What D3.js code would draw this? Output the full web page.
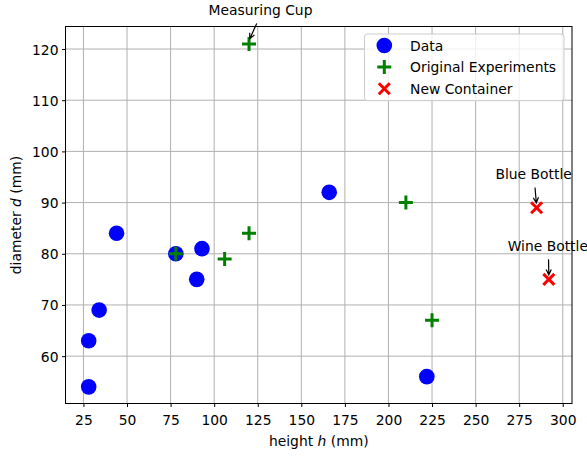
<!DOCTYPE html>
<html>
<head>
<meta charset="utf-8">
<script src="https://cdn.jsdelivr.net/npm/d3@7/dist/d3.min.js"></script>
<style>
  html, body { margin: 0; padding: 0; background: #fff; }
  svg { display: block; font-family: "DejaVu Sans", sans-serif; }
</style>
</head>
<body>
<svg id="chart" width="587" height="456"></svg>
<script>
// ---- Data ----
const dataH = [28, 28, 34, 44, 78, 90, 93, 166, 222];
const dataD = [54, 63, 69, 84, 80, 75, 81, 92, 56];

const origH = [78, 106, 120, 120, 210, 225];
const origD = [80, 79, 84, 121, 90, 67];

const newH = [285, 292];
const newD = [89, 75];

const annotLabels = ["Measuring Cup", "Blue Bottle", "Wine Bottle"];
const annotH = [120, 285, 292];
const annotD = [121, 89, 75];

const legendLabels = ["Data", "Original Experiments", "New Container"];

const xTicks = [25, 50, 75, 100, 125, 150, 175, 200, 225, 250, 275, 300];
const yTicks = [60, 70, 80, 90, 100, 110, 120];

const xDomain = [14.7, 305.3];
const yDomain = [50.75, 124.4];

// ---- Layout ----
const svg = d3.select("#chart");
const L = 65.5, R = 572, T = 26.5, B = 403.5;
const FS = 13.89;

const x = d3.scaleLinear().domain(xDomain).range([L, R]);
const y = d3.scaleLinear().domain(yDomain).range([B, T]);

// grid
const grid = svg.append("g");
grid.selectAll("line.gx").data(xTicks).join("line")
  .attr("x1", d => x(d)).attr("x2", d => x(d))
  .attr("y1", T).attr("y2", B)
  .attr("stroke", "#b0b0b0").attr("stroke-width", 1);
grid.selectAll("line.gy").data(yTicks).join("line")
  .attr("x1", L).attr("x2", R)
  .attr("y1", d => y(d)).attr("y2", d => y(d))
  .attr("stroke", "#b0b0b0").attr("stroke-width", 1);

// axes
const xAxis = d3.axisBottom(x).tickValues(xTicks).tickSize(3.5).tickPadding(3.5).tickFormat(d3.format("d"));
const yAxis = d3.axisLeft(y).tickValues(yTicks).tickSize(3.5).tickPadding(3.5).tickFormat(d3.format("d"));

const gx = svg.append("g").attr("transform", `translate(0,${B})`).call(xAxis);
const gy = svg.append("g").attr("transform", `translate(${L},0)`).call(yAxis);
[gx, gy].forEach(g => {
  g.select(".domain").remove();
  g.selectAll(".tick line").attr("stroke", "#000").attr("stroke-width", 1);
  g.selectAll(".tick text").attr("fill", "#000")
    .style("font-family", "DejaVu Sans").style("font-size", FS + "px");
});
gx.selectAll(".tick text").attr("dy", null).attr("y", 21.5);
gy.selectAll(".tick text").attr("dy", "0.36em");

// spines
svg.append("rect").attr("x", L).attr("y", T).attr("width", R - L).attr("height", B - T)
  .attr("fill", "none").attr("stroke", "#000").attr("stroke-width", 1);

// axis labels
const xl = svg.append("text").attr("x", (L + R) / 2).attr("y", 446)
  .attr("text-anchor", "middle").style("font-size", FS + "px").attr("fill", "#000");
xl.append("tspan").text("height ");
xl.append("tspan").style("font-style", "italic").text("h");
xl.append("tspan").text(" (mm)");

const yl = svg.append("text")
  .attr("transform", `translate(20.5,${(T + B) / 2}) rotate(-90)`)
  .attr("text-anchor", "middle").style("font-size", FS + "px").attr("fill", "#000");
yl.append("tspan").text("diameter ");
yl.append("tspan").style("font-style", "italic").text("d");
yl.append("tspan").text(" (mm)");

// marker drawers
function drawCircle(g, cx, cy) {
  g.append("circle").attr("cx", cx).attr("cy", cy).attr("r", 7.8).attr("fill", "#0000ff");
}
function drawPlus(g, cx, cy) {
  const s = 7;
  g.append("path").attr("d", `M${cx - s},${cy}H${cx + s}M${cx},${cy - s}V${cy + s}`)
    .attr("stroke", "#008000").attr("stroke-width", 3).attr("fill", "none");
}
function drawX(g, cx, cy) {
  const s = 5.5;
  g.append("path").attr("d", `M${cx - s},${cy - s}L${cx + s},${cy + s}M${cx - s},${cy + s}L${cx + s},${cy - s}`)
    .attr("stroke", "#ff0000").attr("stroke-width", 3).attr("fill", "none");
}

const marks = svg.append("g");
dataH.forEach((h, i) => drawCircle(marks, x(h), y(dataD[i])));
origH.forEach((h, i) => drawPlus(marks, x(h), y(origD[i])));
newH.forEach((h, i) => drawX(marks, x(h), y(newD[i])));

// annotations (text offset, arrow start/end offsets in px relative to target)
const annotOffsets = [
  { tx: 11.5, ty: -28.6, sx: 7.7, sy: -20.5, ex: 0.8, ey: -5.2 },
  { tx: -3, ty: -29, sx: -1.6, sy: -20.2, ex: -0.3, ey: -4.8 },
  { tx: -1, ty: -28.5, sx: -0.3, sy: -20, ex: 0, ey: -4.5 }
];
const ann = svg.append("g");
annotLabels.forEach((lab, i) => {
  const px = x(annotH[i]), py = y(annotD[i]);
  const o = annotOffsets[i];
  ann.append("text").attr("x", px + o.tx).attr("y", py + o.ty)
    .attr("text-anchor", "middle").style("font-size", FS + "px").attr("fill", "#000").text(lab);
  const x1 = px + o.sx, y1 = py + o.sy, x2 = px + o.ex, y2 = py + o.ey;
  const ang = Math.atan2(y2 - y1, x2 - x1);
  const hl = 6, hw = 0.45;
  const a1 = ang + Math.PI - hw, a2 = ang + Math.PI + hw;
  ann.append("path")
    .attr("d", `M${x1},${y1}L${x2},${y2}M${x2 + hl * Math.cos(a1)},${y2 + hl * Math.sin(a1)}L${x2},${y2}L${x2 + hl * Math.cos(a2)},${y2 + hl * Math.sin(a2)}`)
    .attr("stroke", "#000").attr("stroke-width", 1.2).attr("fill", "none");
});

// legend
const lg = svg.append("g");
lg.append("rect").attr("x", 364.5).attr("y", 34).attr("width", 199.5).attr("height", 66.7)
  .attr("rx", 3).attr("fill", "#fff").attr("fill-opacity", 0.8)
  .attr("stroke", "#cccccc").attr("stroke-width", 1);
const rowY = [45.5, 67, 88.7];
const drawers = [drawCircle, drawPlus, drawX];
legendLabels.forEach((lab, i) => {
  drawers[i](lg, 384.3, rowY[i]);
  lg.append("text").attr("x", 410).attr("y", rowY[i] + 5)
    .style("font-size", FS + "px").attr("fill", "#000").text(lab);
});
</script>
</body>
</html>
